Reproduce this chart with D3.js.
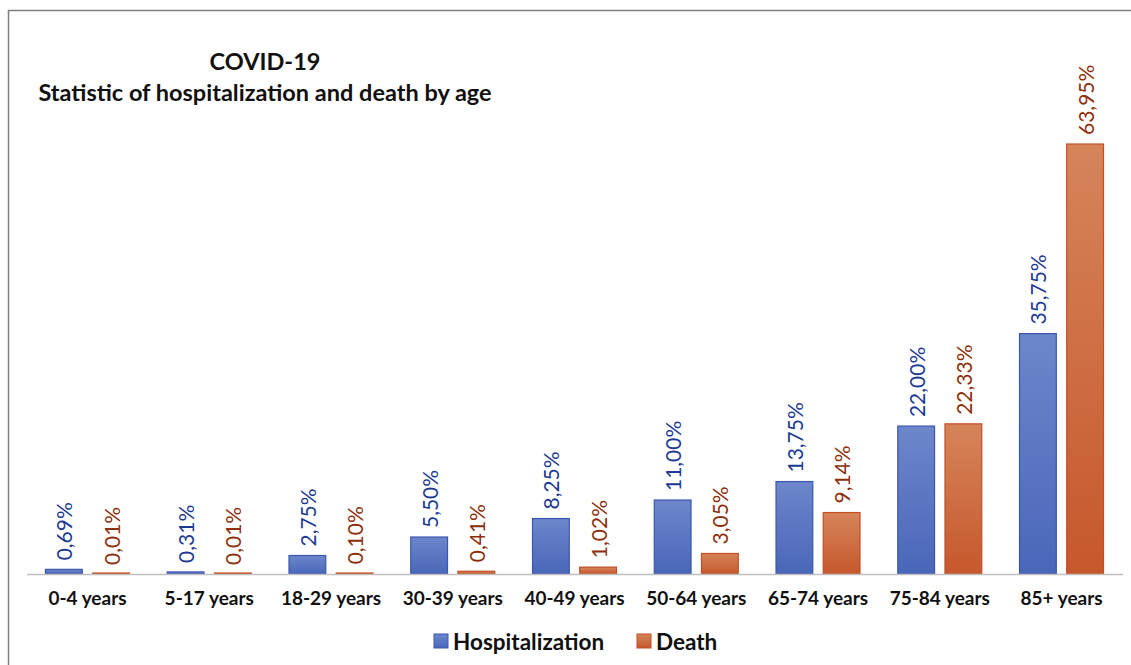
<!DOCTYPE html>
<html><head><meta charset="utf-8">
<script src="https://cdn.jsdelivr.net/npm/d3@7"></script>
<style>body{margin:0;background:#fff;}svg{display:block;font-family:Lato,"Open Sans",sans-serif;}</style>
</head><body>
<svg id="c" width="1131" height="665"></svg>
<script>
const categories = ["0-4 years","5-17 years","18-29 years","30-39 years","40-49 years","50-64 years","65-74 years","75-84 years","85+ years"];
const seriesNames = ["Hospitalization","Death"];
const hospitalization = [0.69,0.31,2.75,5.50,8.25,11.00,13.75,22.00,35.75];
const death = [0.01,0.01,0.10,0.41,1.02,3.05,9.14,22.33,63.95];
const titleLines = ["COVID-19","Statistic of hospitalization and death by age"];

const svg = d3.select("#c");
const defs = svg.append("defs");
const styles = {
  Hospitalization:{top:"#6d87cb",bot:"#4a66b9",stroke:"#3b56ad",text:"#1c3a94"},
  Death:{top:"#d6845a",bot:"#c6582c",stroke:"#c24f24",text:"#8e2f0c"}
};
seriesNames.forEach((s,i)=>{
  const g = defs.append("linearGradient").attr("id","g"+i).attr("x1",0).attr("x2",0).attr("y1",0).attr("y2",1);
  g.append("stop").attr("offset","0%").attr("stop-color",styles[s].top);
  g.append("stop").attr("offset","100%").attr("stop-color",styles[s].bot);
});

// frame
svg.append("rect").attr("x",8.5).attr("y",10.5).attr("width",1140).attr("height",680)
  .attr("fill","none").attr("stroke","#7f7f7f").attr("stroke-width",1.5);

const x0 = d3.scaleBand().domain(categories).range([26.6,1122.4]).paddingInner(0.302).paddingOuter(0.151);
const x1 = d3.scaleBand().domain(seriesNames).range([0,x0.bandwidth()]).paddingInner(0.2);
const y = d3.scaleLinear().domain([0,63.95]).range([574,144]);

const data = categories.map((c,i)=>({cat:c, vals:[{s:"Hospitalization",v:hospitalization[i],k:0},{s:"Death",v:death[i],k:1}]}));
const fmt = v => d3.format(".2f")(v).replace(".",",")+"%";

const groups = svg.append("g").selectAll("g").data(data).join("g")
  .attr("transform",d=>`translate(${x0(d.cat)},0)`);
groups.selectAll("rect").data(d=>d.vals).join("rect")
  .attr("x",d=>x1(d.s)+0.5).attr("width",x1.bandwidth()-1)
  .attr("y",d=>Math.min(y(d.v),y(0)-1)).attr("height",d=>Math.max(y(0)-y(d.v),1))
  .attr("fill",d=>`url(#g${d.k})`).attr("stroke",d=>styles[d.s].stroke).attr("stroke-width",1.2);
groups.selectAll("text").data(d=>d.vals).join("text")
  .attr("transform",d=>`translate(${x1(d.s)+x1.bandwidth()/2},${y(d.v)-9}) rotate(-90)`)
  .attr("dominant-baseline","central").attr("text-anchor","start")
  .attr("font-size",21).attr("fill",d=>styles[d.s].text).text(d=>fmt(d.v));

// axis
const xAxis = d3.axisBottom(x0).tickSize(0).tickPadding(18);
const ax = svg.append("g").attr("transform","translate(0,574)").call(xAxis);
ax.select(".domain").attr("stroke","#bfbfbf").attr("stroke-width",1.5);
ax.selectAll("text").attr("font-family","Lato,sans-serif").attr("font-size",19).attr("font-weight","bold").attr("fill","#111");

// title
svg.append("text").attr("x",265).attr("y",70).attr("text-anchor","middle").attr("font-size",23.5).attr("font-weight","bold").attr("fill","#111").text(titleLines[0]);
svg.append("text").attr("x",265).attr("y",101).attr("text-anchor","middle").attr("font-size",23.5).attr("font-weight","bold").attr("fill","#111").text(titleLines[1]);

// legend
const leg = svg.append("g");
const legX = [434,637];
seriesNames.forEach((s,i)=>{
  leg.append("rect").attr("x",legX[i]).attr("y",634).attr("width",14).attr("height",14)
    .attr("fill",`url(#g${i})`).attr("stroke",styles[s].stroke).attr("stroke-width",1);
  leg.append("text").attr("x",legX[i]+19).attr("y",641).attr("dominant-baseline","central")
    .attr("font-size",22.5).attr("font-weight","bold").attr("fill","#111").text(s);
});
</script>
</body></html>
